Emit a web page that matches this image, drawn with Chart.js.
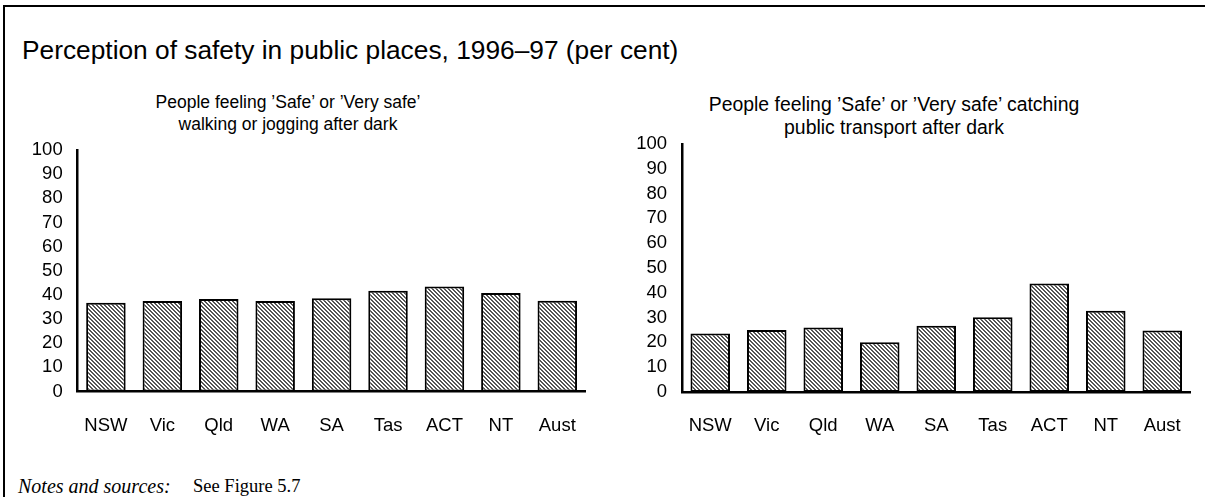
<!DOCTYPE html>
<html>
<head>
<meta charset="utf-8">
<script src="https://cdn.jsdelivr.net/npm/chart.js@4.4.1/dist/chart.umd.min.js"></script>
<style>
  body { margin: 0; background: #fff; width: 1205px; height: 497px; overflow: hidden; position: relative; font-family: "Liberation Sans", Arial, sans-serif; }
  #frame { position: absolute; left: 3px; top: 5px; width: 1300px; height: 600px; border-left: 2px solid #000; border-top: 2px solid #000; }
  .txt { position: absolute; white-space: nowrap; color: #000; }
  #title { left: 22px; top: 35px; font-size: 26.3px; line-height: 30px; }
  .sub { text-align: center; }
  #subLeft { left: 138px; width: 300px; top: 91px; font-size: 17.5px; line-height: 22px; }
  #subRight { left: 694px; width: 400px; top: 92.5px; font-size: 19.4px; line-height: 23px; }
  .notes { top: 476px; font-family: "Liberation Serif", "Times New Roman", serif; line-height: 20px; }
  #notesHead { left: 18px; font-size: 20px; font-style: italic; }
  #notesText { left: 193px; font-size: 18.5px; }
  canvas { position: absolute; }
  #walkChart { left: 20px; top: 141px; }
  #transportChart { left: 620px; top: 131px; }
</style>
</head>
<body>
<div id="frame"></div>
<div class="txt" id="title">Perception of safety in public places, 1996–97 (per cent)</div>
<div class="txt sub" id="subLeft">People feeling ’Safe’ or ’Very safe’<br>walking or jogging after dark</div>
<div class="txt sub" id="subRight">People feeling ’Safe’ or ’Very safe’ catching<br>public transport after dark</div>
<canvas id="walkChart" width="580" height="300"></canvas>
<canvas id="transportChart" width="585" height="310"></canvas>
<div class="txt notes" id="notesHead">Notes and sources:</div>
<div class="txt notes" id="notesText">See Figure 5.7</div>

<script>
"use strict";

const states = ["NSW", "Vic", "Qld", "WA", "SA", "Tas", "ACT", "NT", "Aust"];
const walkingSafe = [36.7, 37.5, 38.3, 37.5, 38.6, 41.7, 43.5, 40.8, 37.6];
const transportSafe = [23.6, 25.0, 26.0, 20.1, 26.7, 30.1, 43.7, 32.8, 24.8];
const yTicks = [0, 10, 20, 30, 40, 50, 60, 70, 80, 90, 100];

Chart.defaults.font.family = '"Liberation Sans", Arial, sans-serif';
Chart.defaults.font.size = 18.5;
Chart.defaults.color = "#000";

// fine diagonal hatch like the printed original
function makeHatch(){
    let tile = document.createElement("canvas");
    tile.width = 4;
    tile.height = 4;
    let c = tile.getContext("2d");
    c.fillStyle = "#fff";
    c.fillRect(0, 0, 4, 4);
    c.fillStyle = "#555";
    for(let y = 0; y < 4; y++){
        for(let x = 0; x < 4; x++){
            if(((x - y + 4) % 4) < 2){
                c.fillRect(x, y, 1, 1);
            }
        }
    }
    return c.createPattern(tile, "repeat");
}

function makeChart(canvas, values, yWidth, xHeight, padTop){
    const hatch = makeHatch();
    return new Chart(canvas, {
        type: "bar",
        data: {
            labels: states,
            datasets: [{
                data: values,
                backgroundColor: hatch,
                borderColor: "#000",
                borderWidth: 2,
                borderSkipped: false,
                barPercentage: 0.7,
                categoryPercentage: 1
            }]
        },
        options: {
            responsive: false,
            animation: false,
            layout: { padding: { top: padTop, right: 14.5, left: 0, bottom: 0 } },
            scales: {
                x: {
                    grid: { display: false },
                    border: { display: true, color: "#000", width: 2.5 },
                    ticks: { padding: 15, maxRotation: 0, autoSkip: false },
                    afterFit: function(axis){
                        axis.height = xHeight;
                        axis.paddingLeft = 0;
                        axis.paddingRight = 0;
                    }
                },
                y: {
                    min: 0,
                    max: 100,
                    grid: { display: false },
                    border: { display: true, color: "#000", width: 2.5 },
                    afterBuildTicks: function(axis){ axis.ticks = yTicks.map(v => ({ value: v })); },
                    ticks: { padding: 7, autoSkip: false },
                    afterFit: function(axis){
                        axis.width = yWidth;
                        axis.paddingTop = 0;
                        axis.paddingBottom = 0;
                    }
                }
            },
            plugins: {
                legend: { display: false },
                tooltip: { enabled: false },
                title: { display: false }
            }
        }
    });
}

makeChart(document.getElementById("walkChart"), walkingSafe, 57.7, 49.5, 9);
makeChart(document.getElementById("transportChart"), transportSafe, 62, 49, 13);
</script>
</body>
</html>
